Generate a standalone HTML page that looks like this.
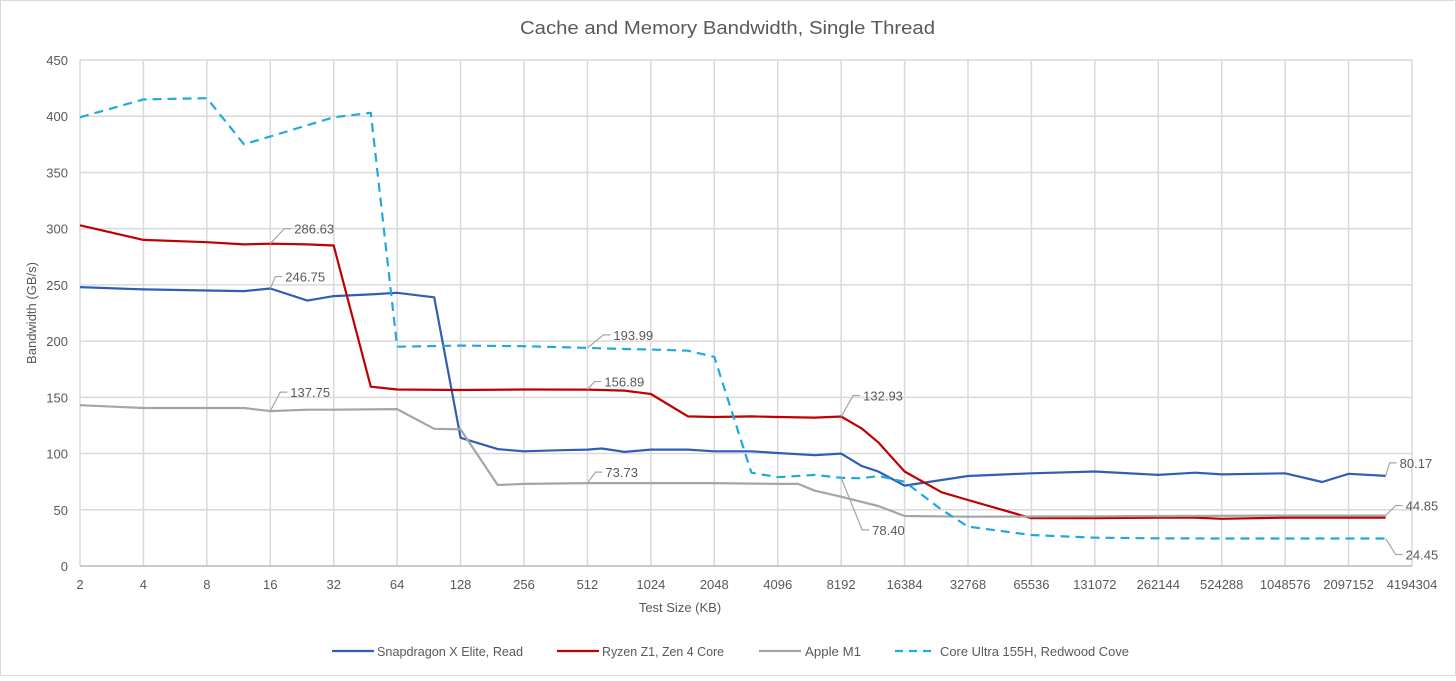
<!DOCTYPE html>
<html><head><meta charset="utf-8">
<style>
body{margin:0;background:#fff;}
svg text{font-family:"Liberation Sans",sans-serif;fill:#595959;}
</style></head>
<body>
<svg id="chart" width="1456" height="676" xmlns="http://www.w3.org/2000/svg">
<rect x="0.5" y="0.5" width="1455" height="675" fill="#fff" stroke="#d9d9d9"/>
<text x="520" y="34" textLength="415" lengthAdjust="spacingAndGlyphs" font-size="18">Cache and Memory Bandwidth, Single Thread</text>
<g id="grid"></g><g id="axes"></g><g id="series"></g><g id="labels"></g>
<text x="680" y="612" text-anchor="middle" font-size="13">Test Size (KB)</text>
<text transform="translate(36,313) rotate(-90)" text-anchor="middle" font-size="13">Bandwidth (GB/s)</text>
<g id="legend"></g>
</svg>
<script>
const xTicks=[2,4,8,16,32,64,128,256,512,1024,2048,4096,8192,16384,32768,65536,131072,262144,524288,1048576,2097152,4194304];
const yTicks=[0,50,100,150,200,250,300,350,400,450];
const seriesNames=["Snapdragon X Elite, Read","Ryzen Z1, Zen 4 Core","Apple M1","Core Ultra 155H, Redwood Cove"];
const snapSizes=[2,4,8,12,16,24,32,48,64,96,128,192,256,384,512,600,768,1024,1536,2048,3072,4096,6144,8192,10240,12288,16384,24576,32768,65536,131072,262144,393216,524288,1048576,1572864,2097152,3145728];
const snapVals=[248,246,245,244.5,246.75,236,240,241.5,243,239,114,104,102,103,103.5,104.5,101.5,103.5,103.5,102,102,100.5,98.5,100,89,84,71.5,76.5,80,82.4,84,81,83,81.5,82.4,74.7,82,80.17];
const ryzenSizes=[2,4,8,12,16,24,32,48,64,128,256,512,768,1024,1536,2048,3072,4096,6144,8192,10240,12288,16384,24576,32768,65536,131072,262144,393216,524288,1048576,2097152,3145728];
const ryzenVals=[303,290,288,286,286.63,286,285,159.5,157,156.5,157,156.89,156,153,133,132.5,133,132.5,132,132.93,122.4,110,84,65.5,58.7,42.5,42.5,43,43,42,43,43,43];
const m1Sizes=[2,4,8,12,16,24,32,64,96,128,192,256,512,1024,2048,4096,5120,6144,8192,12288,16384,32768,65536,131072,262144,524288,1048576,2097152,3145728];
const m1Vals=[143,140.5,140.5,140.5,137.75,139,139,139.5,122,121.5,72,73,73.73,73.7,73.7,73,73,67,61.6,53.4,44.5,43.8,44,44.2,44.5,44.6,44.8,44.85,44.85];
const coreSizes=[2,4,8,12,16,24,32,48,64,128,256,512,768,1024,1536,2048,3072,4096,6144,8192,10240,12288,16384,24576,32768,65536,131072,262144,524288,1048576,2097152,3145728];
const coreVals=[399,415,416,375,382,392,399,403,195,196,195.5,193.99,193,192.5,191.5,186,83,79,81,78.4,78,80,75,50,35,27.6,25.2,24.6,24.5,24.5,24.5,24.45];
const colors=["#2f5fb3","#c00000","#a5a5a5","#1fa9e1"];

const NS="http://www.w3.org/2000/svg";
const X0=80,X1=1412,Y0=566,Y1=60;
function xs(v){return X0+Math.log2(v/2)/Math.log2(xTicks[xTicks.length-1]/2)*(X1-X0);}
function ys(v){return Y0-v/450*(Y0-Y1);}
function mk(tag,attrs,parent){const e=document.createElementNS(NS,tag);for(const k in attrs)e.setAttribute(k,attrs[k]);parent.appendChild(e);return e;}
const grid=document.getElementById('grid'),axes=document.getElementById('axes');
yTicks.forEach(t=>{
  const l=mk('line',{x1:X0,x2:X1,y1:ys(t),y2:ys(t),stroke:'#d9d9d9','stroke-width':1.5},grid);
  
  
  const tx=mk('text',{x:X0-12,y:ys(t)+5,'text-anchor':'end','font-size':13},axes);
  tx.textContent=t;
  
  
});
xTicks.forEach(t=>{
  const l=mk('line',{x1:xs(t),x2:xs(t),y1:Y1,y2:Y0,stroke:'#d9d9d9','stroke-width':1.5},grid);
  
  
  const tx=mk('text',{x:xs(t),y:Y0+23,'text-anchor':'middle','font-size':13},axes);
  tx.textContent=t;
  
  
});
const ax=mk('line',{x1:X0,x2:X1,y1:Y0,y2:Y0,stroke:'#bfbfbf','stroke-width':1.5},axes);


const sg=document.getElementById('series');
const all=[[snapSizes,snapVals],[ryzenSizes,ryzenVals],[m1Sizes,m1Vals],[coreSizes,coreVals]];
const slugs=['snapdragon-line','ryzen-line','apple-m1-line','core-ultra-line'];
all.forEach((s,i)=>{
  const pts=s[0].map((sz,j)=>xs(sz).toFixed(1)+','+ys(s[1][j]).toFixed(1)).join(' ');
  const p=mk('polyline',{points:pts,fill:'none',stroke:colors[i],'stroke-width':2.2,'stroke-linejoin':'round'},sg);
  if(i===3){p.setAttribute('stroke-dasharray','9,6');}
  
  
});
const calloutSeries=[1,0,2,3,1,2,1,3,0,2,3];
const calloutSizes=[16,16,16,512,512,512,8192,8192,3145728,3145728,3145728];
const calloutDx=[24,15,20,26,17,18,22,31,14,20,20];
const calloutDy=[-15,-12,-19,-13,-8,-11,-21,52,-13,-10,16];
const lg=document.getElementById('labels');
calloutSeries.forEach((si,k)=>{
  const s=all[si];const j=s[0].indexOf(calloutSizes[k]);const v=s[1][j];
  const px=xs(calloutSizes[k]),py=ys(v);
  const tx=px+calloutDx[k],ty=py+calloutDy[k];
  const pl=mk('polyline',{points:`${px},${py} ${tx-10},${ty} ${tx-3},${ty}`,fill:'none',stroke:'#a5a5a5','stroke-width':1.2},lg);
  
  
  const t=mk('text',{x:tx,y:ty+5,'font-size':13,fill:'#404040'},lg);
  t.textContent=v.toFixed(2);
  
  
});
const leg=document.getElementById('legend');
const legX=[332,557,759,895];
const legTX=[377,602,805,940];
const legTW=[146,122,56,189];
seriesNames.forEach((n,i)=>{
  const g=mk('g',{},leg);
  
  
  const l=mk('line',{x1:legX[i],x2:legX[i]+42,y1:651,y2:651,stroke:colors[i],'stroke-width':2.2},g);
  if(i===3)l.setAttribute('stroke-dasharray','8,6');
  const t=mk('text',{x:legTX[i],y:656,'font-size':13,textLength:legTW[i],lengthAdjust:'spacingAndGlyphs'},g);
  t.textContent=n;
});
</script>
</body></html>
